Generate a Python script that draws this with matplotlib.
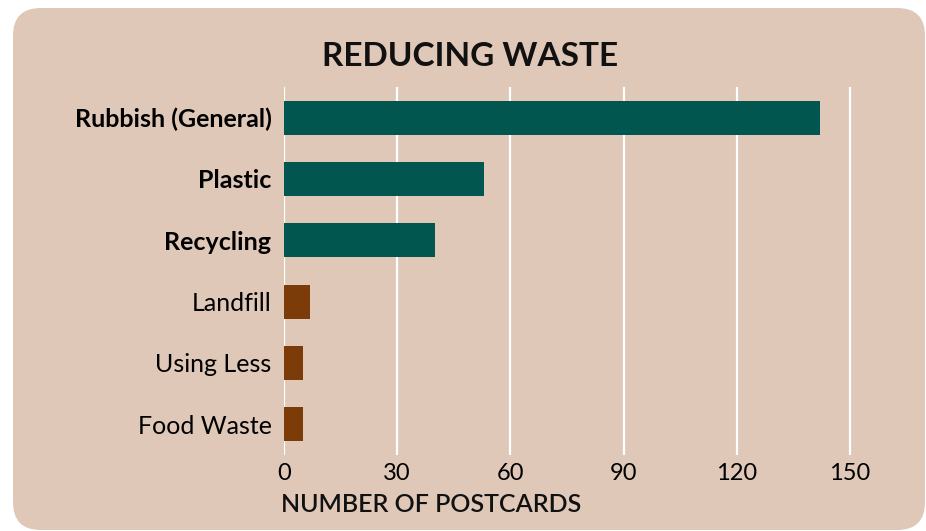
import matplotlib.pyplot as plt
from matplotlib.patches import FancyBboxPatch

categories = ["Rubbish (General)", "Plastic", "Recycling", "Landfill", "Using Less", "Food Waste"]
postcards = [142, 53, 40, 7, 5, 5]
bold_labels = [True, True, True, False, False, False]
x_ticks = [0, 30, 60, 90, 120, 150]

teal = "#015750"
brown = "#7C3C0A"
beige = "#DFC8B8"
colors = [teal if b else brown for b in bold_labels]

plt.rcParams['font.family'] = ['Lato', 'DejaVu Sans']

fig = plt.figure(figsize=(9.26, 5.31), dpi=100)
fig.patch.set_facecolor("white")

# beige card behind everything
W, H = 926, 531
card = FancyBboxPatch((13 / W, 1 / H), 912 / W, 522 / H,
                      boxstyle="round,pad=0,rounding_size=0.03",
                      transform=fig.transFigure, facecolor=beige, edgecolor="none",
                      mutation_aspect=W / H, zorder=-5)
fig.patches.append(card)

ax = fig.add_axes([284 / W, 1 - 455 / H, 640 / W, 368 / H])
ax.set_facecolor("none")
ax.set_zorder(2)

y = list(range(len(categories)))
ax.barh(y, postcards, height=0.555, color=colors, zorder=3)
ax.set_ylim(len(categories) - 0.5, -0.5)
ax.set_xlim(0, 169.6)

ax.set_xticks(x_ticks)
ax.set_xticklabels([str(t) for t in x_ticks], fontsize=17)
ax.set_yticks(y)
ax.set_yticklabels(categories, fontsize=18)
for lbl, b in zip(ax.get_yticklabels(), bold_labels):
    lbl.set_fontweight("bold" if b else "normal")

ax.grid(axis="x", color="white", linewidth=1.6, zorder=1)
ax.tick_params(axis="x", length=0, pad=6)
ax.tick_params(axis="y", length=0, pad=9)
for s in ax.spines.values():
    s.set_visible(False)

fig.text(470 / W, 1 - 57 / H, "REDUCING WASTE", fontsize=24, fontweight="bold",
         ha="center", va="center", color="#111111")
fig.text(281 / W, 1 - 505 / H, "NUMBER OF POSTCARDS", fontsize=18, fontweight="semibold",
         ha="left", va="center", color="#111111")

fig.savefig("out.png", dpi=100, facecolor="white")
